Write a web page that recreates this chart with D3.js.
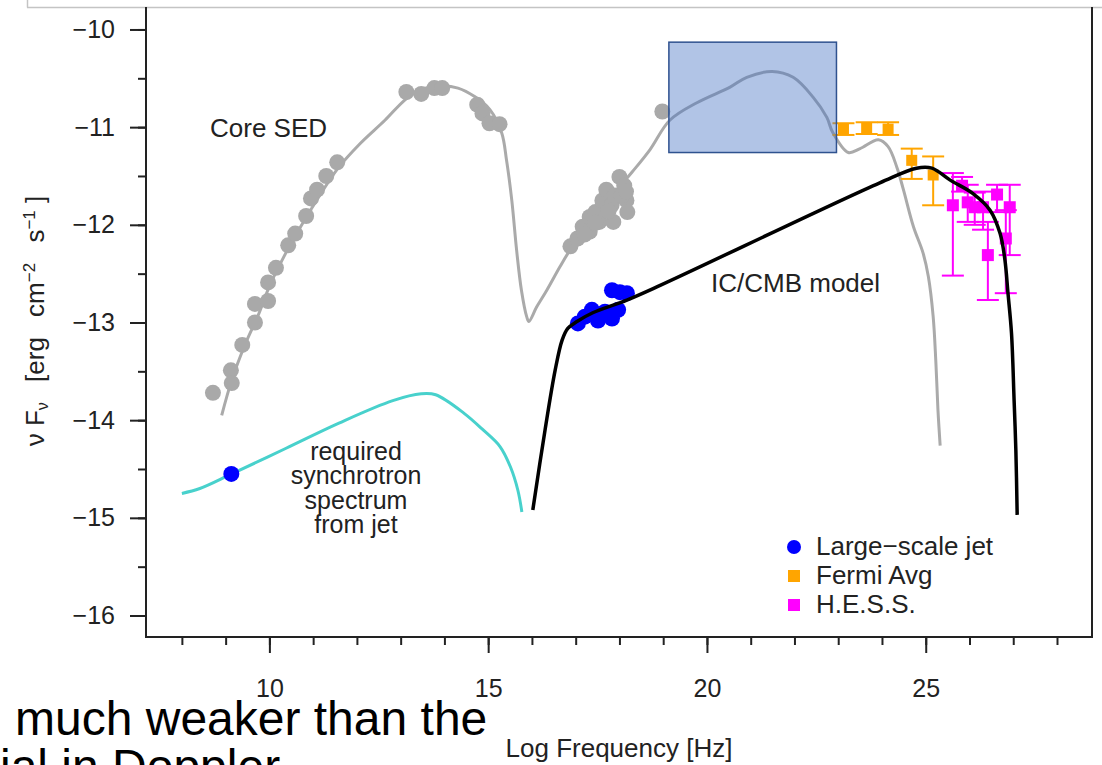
<html>
<head>
<meta charset="utf-8">
<script src="https://d3js.org/d3.v7.min.js"></script>
<style>
  body { margin: 0; background: #fff; }
  text { font-family: "Liberation Sans", Arial, Helvetica, sans-serif; }
  .axis text { font-size: 25px; fill: #222; }
  .axis line { stroke: #222; stroke-width: 2; }
  .axis .domain { display: none; }
  .note { font-size: 26px; fill: #222; }
</style>
</head>
<body>
<svg id="sed" width="1102" height="765"></svg>
<script>
// log10(nu) vs log10(nu F_nu)
const coreSedCurve = [
  [8.91,-13.95],[9.14,-13.59],[9.44,-13.23],[9.74,-12.93],[10.01,-12.62],[10.35,-12.31],
  [10.7,-12.03],[11.15,-11.7],[11.57,-11.42],[12.07,-11.17],[12.64,-10.93],[13.1,-10.72],
  [13.44,-10.62],[13.9,-10.58],[14.31,-10.6],[14.7,-10.69],[15.04,-10.82],[15.31,-11.06],
  [15.42,-11.34],[15.54,-11.75],[15.65,-12.26],[15.76,-12.67],[15.88,-12.94],[15.93,-12.99],
  [16.11,-12.84],[16.34,-12.67],[16.64,-12.43],[16.87,-12.26],[17.55,-11.85],[18.29,-11.46],
  [18.7,-11.23],[19.15,-10.93],[19.77,-10.75],[20.53,-10.59],[20.91,-10.49],[21.49,-10.43],
  [21.97,-10.49],[22.42,-10.69],[22.74,-10.9],[22.87,-11.05],[23.23,-11.26],[23.5,-11.22],
  [23.92,-11.13],[24.14,-11.2],[24.34,-11.41],[24.49,-11.64],[24.72,-12.02],[24.94,-12.29],
  [25.06,-12.53],[25.17,-12.94],[25.23,-13.39],[25.28,-13.9],[25.33,-14.26]
];
const coreSedPoints = [
  [8.71,-13.72],[9.12,-13.49],[9.14,-13.62],[9.38,-13.23],[9.67,-13.0],[9.67,-12.81],
  [9.97,-12.78],[9.97,-12.59],[10.15,-12.44],[10.43,-12.21],[10.59,-12.09],[10.84,-11.91],
  [10.95,-11.73],[11.09,-11.64],[11.3,-11.5],[11.55,-11.36],[13.13,-10.64],[13.47,-10.66],
  [13.77,-10.6],[13.95,-10.6],[14.75,-10.77],[14.87,-10.86],[15.03,-10.96],[15.26,-10.97],
  [16.88,-12.22],[17.04,-12.14],[17.16,-12.02],[17.32,-11.92],[17.45,-11.87],[17.54,-11.97],
  [17.61,-11.75],[17.7,-11.64],[17.82,-11.8],[17.86,-11.97],[18.0,-11.51],[18.11,-11.6],
  [18.16,-11.75],[18.18,-11.87],[17.89,-11.7],[17.32,-12.07],[18.98,-10.84],
  [17.2,-12.1],[17.45,-11.98],[17.75,-11.86],[18.05,-11.7],[18.15,-11.66]
];
const synchrotronCurve = [
  [8.0,-14.75],[8.41,-14.7],[9.14,-14.55],[10.37,-14.29],[11.59,-14.03],[12.82,-13.8],
  [13.47,-13.73],[13.8,-13.74],[14.45,-13.93],[14.86,-14.09],[15.27,-14.27],[15.51,-14.48],
  [15.68,-14.72],[15.77,-14.94]
];
const icCmbCurve = [
  [16.02,-14.92],[16.3,-14.1],[16.53,-13.49],[16.69,-13.18],[16.82,-13.06],[17.03,-12.99],
  [17.39,-12.9],[18.17,-12.77],[18.93,-12.62],[23.95,-11.57],[24.79,-11.42],[25.14,-11.42],
  [25.55,-11.54],[26.08,-11.68],[26.47,-11.85],[26.7,-12.09],[26.81,-12.36],[26.88,-12.7],
  [26.96,-13.11],[27.02,-13.8],[27.06,-14.31],[27.09,-14.97]
];
const jetPoints = [
  [9.13,-14.55],[17.05,-13.01],[17.21,-12.94],[17.37,-12.87],[17.51,-12.98],[17.67,-12.89],
  [17.83,-12.96],[17.97,-12.87],[17.83,-12.67],[18.01,-12.69],[18.17,-12.7]
];
// [x, y, yHigh, yLow]
const fermiPoints = [
  [23.12,-11.02,-10.96,-11.08],[23.65,-11.01,-10.95,-11.07],[24.14,-11.02,-10.95,-11.08],
  [24.68,-11.34,-11.22,-11.53],[25.17,-11.49,-11.3,-11.8]
];
const hessPoints = [
  [25.62,-11.8,-11.47,-12.52],[25.83,-11.6,-11.51,-11.66],[25.96,-11.77,-11.59,-11.97],
  [26.12,-11.82,-11.67,-12.0],[26.31,-11.82,-11.66,-12.05],[26.63,-11.69,-11.59,-11.87],
  [26.92,-11.82,-11.59,-12.31],[26.83,-12.14,-11.85,-12.7],[26.42,-12.31,-11.97,-12.77]
];
// band of the shaded box: [x0, x1, yTop, yBottom]
const shadedBand = [19.13, 22.96, -10.13, -11.26];

const xMajor = [10, 15, 20, 25];
const xMinor = d3.range(8, 29);
const yMajor = [-10, -11, -12, -13, -14, -15, -16];
const yMinor = d3.range(-10, -16.01, -0.5);

const legendItems = ["Large\u2212scale jet", "Fermi Avg", "H.E.S.S."];
const legendColors = ["#0000ff", "#ffa500", "#ff00ff"];

const svg = d3.select("#sed");
const plotLeft = 146, plotRight = 1092, plotTop = 7, plotBottom = 637;

const x = d3.scaleLinear().domain([7.18, 28.8]).range([plotLeft, plotRight]);
const y = d3.scaleLinear().domain([-9.77, -16.22]).range([plotTop, plotBottom]);

const line = d3.line().x(d => x(d[0])).y(d => y(d[1])).curve(d3.curveCatmullRom);

// frame artifact of the page
svg.append("line").attr("x1", 27).attr("x2", 1102).attr("y1", 7.5).attr("y2", 7.5)
  .attr("stroke", "#c4c4c4").attr("stroke-width", 1.5);
svg.append("line").attr("x1", 27.5).attr("x2", 27.5).attr("y1", 0).attr("y2", 7.5)
  .attr("stroke", "#c4c4c4").attr("stroke-width", 1.5);

// axes
svg.append("g").attr("class", "axis").attr("transform", `translate(${plotLeft},0)`)
  .call(d3.axisLeft(y).tickValues(yMinor).tickSize(8).tickFormat(""));
svg.append("g").attr("class", "axis").attr("transform", `translate(${plotLeft},0)`)
  .call(d3.axisLeft(y).tickValues(yMajor).tickSize(16).tickPadding(15).tickFormat(d3.format("d")));
svg.append("g").attr("class", "axis").attr("transform", `translate(0,${plotBottom})`)
  .call(d3.axisBottom(x).tickValues(xMinor).tickSize(8).tickFormat(""));
svg.append("g").attr("class", "axis").attr("transform", `translate(0,${plotBottom})`)
  .call(d3.axisBottom(x).tickValues(xMajor).tickSize(16).tickPadding(26).tickFormat(d3.format("d")));

// plot box (top edge hidden under page frame)
svg.append("path")
  .attr("d", `M${plotLeft},${plotTop}V${plotBottom}H${plotRight}V${plotTop}`)
  .attr("fill", "none").attr("stroke", "#222").attr("stroke-width", 2);

// core SED
svg.append("path").datum(coreSedCurve).attr("d", line)
  .attr("fill", "none").attr("stroke", "#aaaaaa").attr("stroke-width", 3);
svg.append("g").selectAll("circle").data(coreSedPoints).join("circle")
  .attr("cx", d => x(d[0])).attr("cy", d => y(d[1])).attr("r", 8)
  .attr("fill", "#a9a9a9");

// synchrotron
svg.append("path").datum(synchrotronCurve).attr("d", line)
  .attr("fill", "none").attr("stroke", "#48d1cc").attr("stroke-width", 3);

// large-scale jet
svg.append("g").selectAll("circle").data(jetPoints).join("circle")
  .attr("cx", d => x(d[0])).attr("cy", d => y(d[1])).attr("r", 8)
  .attr("fill", "#0000ff");

function errorPoints(data, color, size) {
  const g = svg.append("g");
  const cap = 11;
  data.forEach(d => {
    const cx = x(d[0]);
    g.append("line").attr("x1", cx).attr("x2", cx).attr("y1", y(d[2])).attr("y2", y(d[3]))
      .attr("stroke", color).attr("stroke-width", 2);
    [d[2], d[3]].forEach(v => {
      g.append("line").attr("x1", cx - cap).attr("x2", cx + cap).attr("y1", y(v)).attr("y2", y(v))
        .attr("stroke", color).attr("stroke-width", 2);
    });
  });
  g.selectAll("rect").data(data).join("rect")
    .attr("x", d => x(d[0]) - size / 2).attr("y", d => y(d[1]) - size / 2)
    .attr("width", size).attr("height", size).attr("fill", color);
}
errorPoints(fermiPoints, "#ffa500", 11);
errorPoints(hessPoints, "#ff00ff", 12);

// IC/CMB model
svg.append("path").datum(icCmbCurve).attr("d", line)
  .attr("fill", "none").attr("stroke", "#000").attr("stroke-width", 3.5);

// shaded box
svg.append("rect")
  .attr("x", x(shadedBand[0])).attr("y", y(shadedBand[2]))
  .attr("width", x(shadedBand[1]) - x(shadedBand[0]))
  .attr("height", y(shadedBand[3]) - y(shadedBand[2]))
  .attr("fill", "#4472c4").attr("fill-opacity", 0.42)
  .attr("stroke", "#2f528f").attr("stroke-width", 1.5);

// annotations
svg.append("text").attr("class", "note").attr("x", 210).attr("y", 137).text("Core SED");
svg.append("text").attr("class", "note").attr("x", 711).attr("y", 292).text("IC/CMB model");
const syncLines = ["required", "synchrotron", "spectrum", "from jet"];
svg.append("g").selectAll("text").data(syncLines).join("text")
  .attr("class", "note").attr("text-anchor", "middle")
  .attr("x", 356).attr("y", (d, i) => 460 + i * 24.3)
  .style("font-size", "25px")
  .text(d => d);

// legend
const lg = svg.append("g");
lg.append("circle").attr("cx", 794).attr("cy", 547).attr("r", 7).attr("fill", legendColors[0]);
lg.selectAll("rect").data(legendColors.slice(1)).join("rect")
  .attr("x", 788).attr("y", (d, i) => 570 + i * 29).attr("width", 12).attr("height", 12)
  .attr("fill", d => d);
lg.selectAll("text").data(legendItems).join("text")
  .attr("x", 816).attr("y", (d, i) => 555 + i * 29)
  .style("font-size", "26px").attr("fill", "#222").text(d => d);

// axis titles
svg.append("text").attr("x", 619).attr("y", 757).attr("text-anchor", "middle")
  .style("font-size", "26px").attr("fill", "#222").text("Log Frequency [Hz]");

const yt = svg.append("text").attr("transform", "translate(44,321) rotate(-90)")
  .attr("text-anchor", "middle").style("font-size", "26px").attr("fill", "#222");
yt.append("tspan").text("\u03bd F");
yt.append("tspan").attr("baseline-shift", "-25%").style("font-size", "16px").text("\u03bd");
yt.append("tspan").text("\u2002 [erg \u2002cm");
yt.append("tspan").attr("baseline-shift", "super").style("font-size", "17px").text("\u22122");
yt.append("tspan").text("\u2002 s");
yt.append("tspan").attr("baseline-shift", "super").style("font-size", "17px").text("\u22121");
yt.append("tspan").text(" ]");

// slide text overlapping the bottom
svg.append("text").attr("x", 15).attr("y", 735).style("font-size", "48px").attr("fill", "#000")
  .text("much weaker than the");
svg.append("text").attr("x", 0).attr("y", 783).style("font-size", "48px").attr("fill", "#000")
  .text("ial in Doppler");
</script>
</body>
</html>
